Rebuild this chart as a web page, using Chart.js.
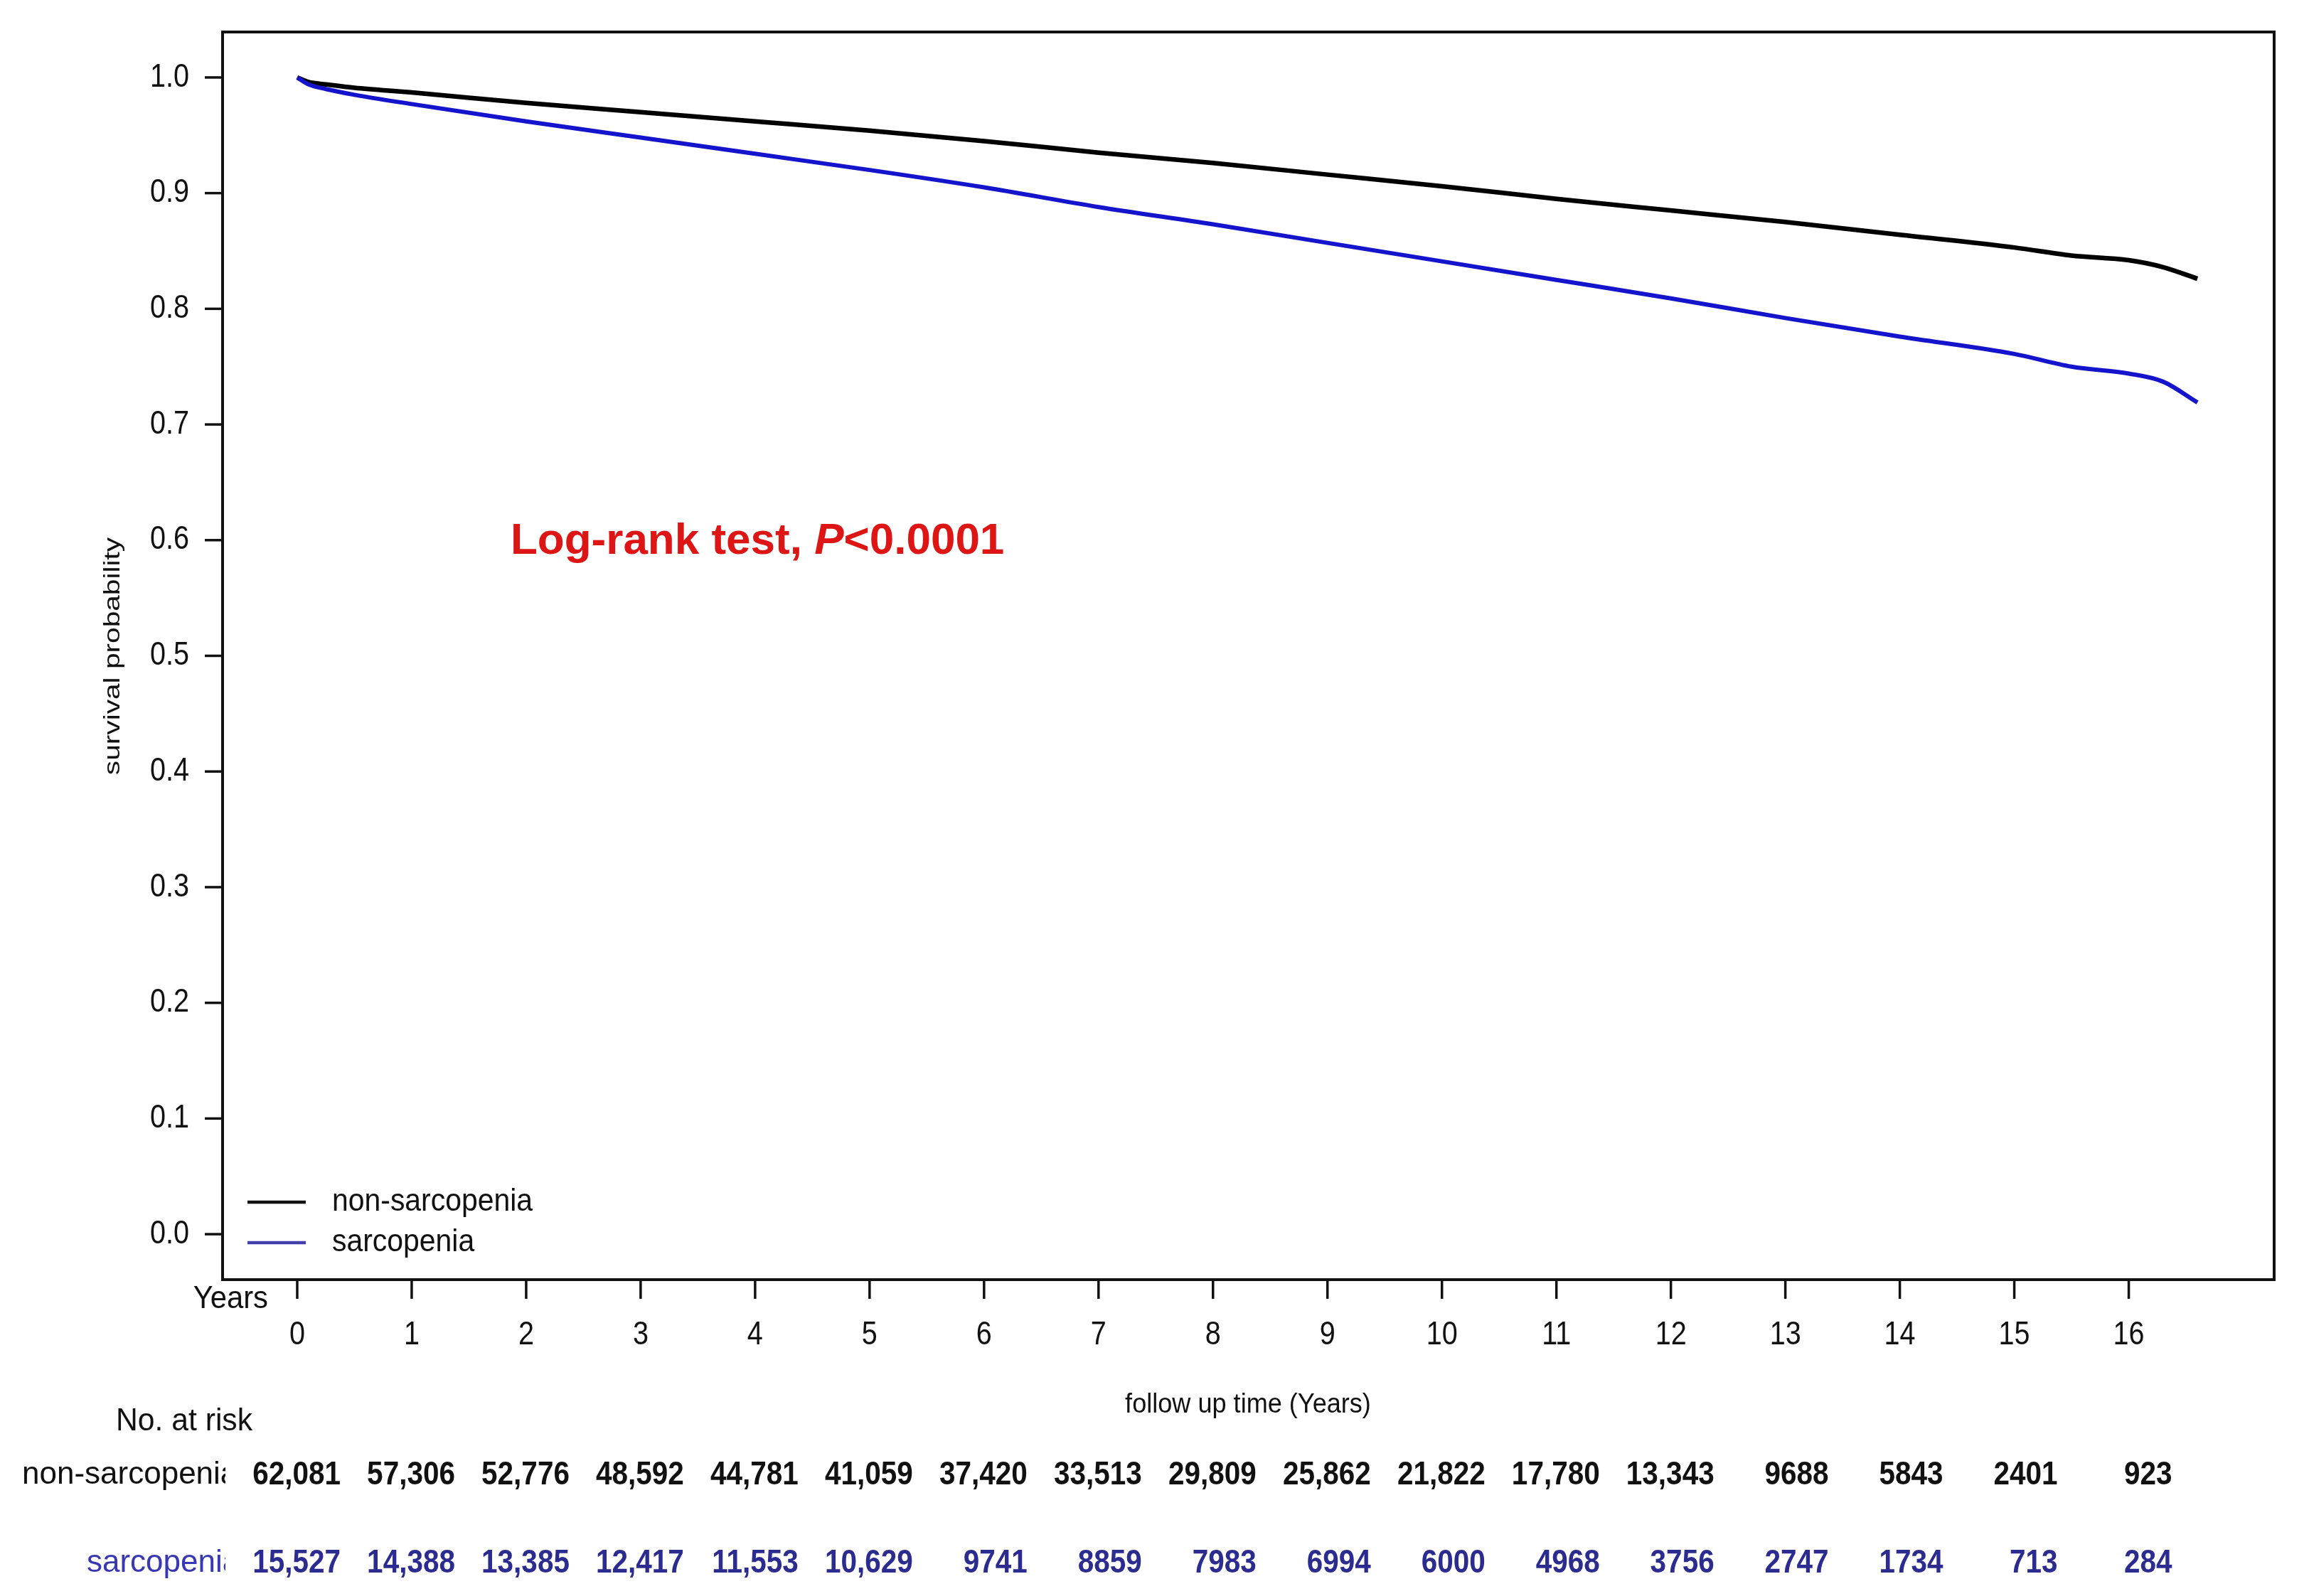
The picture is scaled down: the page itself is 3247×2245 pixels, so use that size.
<!DOCTYPE html>
<html>
<head>
<meta charset="utf-8">
<script src="https://cdn.jsdelivr.net/npm/chart.js@4/dist/chart.umd.min.js"></script>
<style>
  html, body { margin: 0; padding: 0; background: #fff; }
  canvas { display: block; }
</style>
</head>
<body>
<canvas id="km" width="3247" height="2245"></canvas>
<script>
// follow up time grid (years) and survival
const timeYears = [0, 0.1, 0.25, 0.5, 1, 2, 3, 4, 5, 6, 7, 8, 9, 10, 11, 12, 13, 14, 15, 15.5, 16, 16.3, 16.6];
const survNon  = [1.000, 0.996, 0.994, 0.991, 0.987, 0.978, 0.970, 0.962, 0.954, 0.945, 0.935, 0.926, 0.916, 0.906, 0.895, 0.885, 0.875, 0.864, 0.853, 0.846, 0.842, 0.836, 0.826];
const survSarc = [1.000, 0.994, 0.990, 0.985, 0.977, 0.962, 0.948, 0.934, 0.920, 0.905, 0.888, 0.873, 0.857, 0.841, 0.825, 0.809, 0.792, 0.776, 0.761, 0.750, 0.744, 0.737, 0.719];

const groupNames = ['non-sarcopenia', 'sarcopenia'];

// number at risk table
const riskYears = [0, 1, 2, 3, 4, 5, 6, 7, 8, 9, 10, 11, 12, 13, 14, 15, 16];
const riskNon  = [62081, 57306, 52776, 48592, 44781, 41059, 37420, 33513, 29809, 25862, 21822, 17780, 13343, 9688, 5843, 2401, 923];
const riskSarc = [15527, 14388, 13385, 12417, 11553, 10629, 9741, 8859, 7983, 6994, 6000, 4968, 3756, 2747, 1734, 713, 284];

// axis ticks
const yTicks = [0, 0.1, 0.2, 0.3, 0.4, 0.5, 0.6, 0.7, 0.8, 0.9, 1.0];
const xTicks = [0, 1, 2, 3, 4, 5, 6, 7, 8, 9, 10, 11, 12, 13, 14, 15, 16];

const FONT = '"Liberation Sans", Arial, sans-serif';
const BLUE = '#1414cc';

function fmt(n) {
  return n >= 10000 ? n.toLocaleString('en-US') : String(n);
}

const toPoints = (xs, ys) => xs.map((t, i) => ({ x: t, y: ys[i] }));

// text helper, sx squeezes the glyphs sideways like the narrow font of the original
function txt(ctx, s, x, y, o) {
  ctx.save();
  ctx.translate(x, y);
  if (o.rot) ctx.rotate(o.rot);
  ctx.scale(o.sx || 1, 1);
  ctx.font = o.font;
  ctx.fillStyle = o.color || '#111';
  ctx.textAlign = o.align || 'left';
  ctx.textBaseline = 'middle';
  ctx.fillText(s, 0, 0);
  ctx.restore();
}

const drawExtras = {
  id: 'drawExtras',
  beforeDraw(chart) {
    const ctx = chart.ctx;
    ctx.save();
    ctx.fillStyle = '#fff';
    ctx.fillRect(0, 0, chart.width, chart.height);
    ctx.restore();
  },
  afterDraw(chart) {
    const ctx = chart.ctx;
    const xs = chart.scales.x, ys = chart.scales.y;
    const a = chart.chartArea;
    const tickFont = '46px ' + FONT;
    ctx.save();
    ctx.strokeStyle = '#111';

    // frame
    ctx.lineWidth = 4;
    ctx.strokeRect(a.left, a.top, a.right - a.left, a.bottom - a.top);

    // y axis
    ctx.lineWidth = 3.5;
    yTicks.forEach(v => {
      const py = ys.getPixelForValue(v);
      ctx.beginPath();
      ctx.moveTo(a.left - 25, py);
      ctx.lineTo(a.left, py);
      ctx.stroke();
      txt(ctx, v.toFixed(1), a.left - 47, py, { font: tickFont, align: 'right', sx: 0.86 });
    });

    // x axis
    xTicks.forEach(v => {
      const px = xs.getPixelForValue(v);
      ctx.beginPath();
      ctx.moveTo(px, a.bottom);
      ctx.lineTo(px, a.bottom + 27);
      ctx.stroke();
      txt(ctx, String(v), px, 1878, { font: tickFont, align: 'center', sx: 0.86 });
    });
    txt(ctx, 'Years', 377, 1828, { font: '44px ' + FONT, align: 'right', sx: 0.95 });

    // axis titles
    txt(ctx, 'follow up time (Years)', 1755, 1977, { font: '38px ' + FONT, align: 'center', sx: 0.95 });
    txt(ctx, 'survival probability', 159, 923, { font: '32px ' + FONT, align: 'center', sx: 1.27, rot: -Math.PI / 2 });

    // log-rank annotation
    const red = '#dd1515';
    let tx = 718;
    const ty = 762;
    ctx.font = 'bold 62px ' + FONT;
    txt(ctx, 'Log-rank test, ', tx, ty, { font: 'bold 62px ' + FONT, color: red });
    tx += ctx.measureText('Log-rank test, ').width;
    ctx.font = 'italic bold 62px ' + FONT;
    txt(ctx, 'P', tx, ty, { font: 'italic bold 62px ' + FONT, color: red });
    tx += ctx.measureText('P').width;
    txt(ctx, '<0.0001', tx, ty, { font: 'bold 62px ' + FONT, color: red });

    // legend
    const legCols = ['#111', '#4040a8'];
    groupNames.forEach((g, i) => {
      const ly = 1691 + i * 57;
      ctx.strokeStyle = legCols[i];
      ctx.lineWidth = 4.5;
      ctx.beginPath();
      ctx.moveTo(348, ly);
      ctx.lineTo(430, ly);
      ctx.stroke();
      txt(ctx, g, 467, ly, { font: '44px ' + FONT, sx: 0.93 });
    });

    // number at risk table
    txt(ctx, 'No. at risk', 259, 2000, { font: '44px ' + FONT, align: 'center', sx: 0.97 });

    const rows = [
      { label: groupNames[0], vals: riskNon, lc: '#111', nc: '#111', y: 2075, lx: 31 },
      { label: groupNames[1], vals: riskSarc, lc: '#3838b4', nc: '#2c2c90', y: 2199, lx: 122 }
    ];
    rows.forEach(r => {
      // row names are cut off at the table's left column, as in the original
      ctx.save();
      ctx.beginPath();
      ctx.rect(0, r.y - 40, 317, 80);
      ctx.clip();
      txt(ctx, r.label, r.lx, r.y, { font: '44px ' + FONT, color: r.lc, sx: 1 });
      ctx.restore();

      riskYears.forEach((t, i) => {
        const px = xs.getPixelForValue(t);
        txt(ctx, fmt(r.vals[i]), px + 61, r.y, { font: 'bold 46px ' + FONT, color: r.nc, align: 'right', sx: 0.88 });
      });
    });

    ctx.restore();
  }
};

new Chart(document.getElementById('km'), {
  type: 'line',
  data: {
    datasets: [
      {
        label: groupNames[1],
        data: toPoints(timeYears, survSarc),
        borderColor: BLUE,
        borderWidth: 6,
        pointRadius: 0,
        cubicInterpolationMode: 'monotone'
      },
      {
        label: groupNames[0],
        data: toPoints(timeYears, survNon),
        borderColor: '#000',
        borderWidth: 6.5,
        pointRadius: 0,
        cubicInterpolationMode: 'monotone'
      }
    ]
  },
  options: {
    responsive: false,
    animation: false,
    devicePixelRatio: 1,
    layout: { padding: { left: 313, right: 49, top: 45, bottom: 445 } },
    plugins: { legend: { display: false }, tooltip: { enabled: false } },
    scales: {
      x: { type: 'linear', min: -0.652, max: 17.27, display: false },
      y: { type: 'linear', min: -0.0393, max: 1.0393, display: false }
    }
  },
  plugins: [drawExtras]
});
</script>
</body>
</html>
